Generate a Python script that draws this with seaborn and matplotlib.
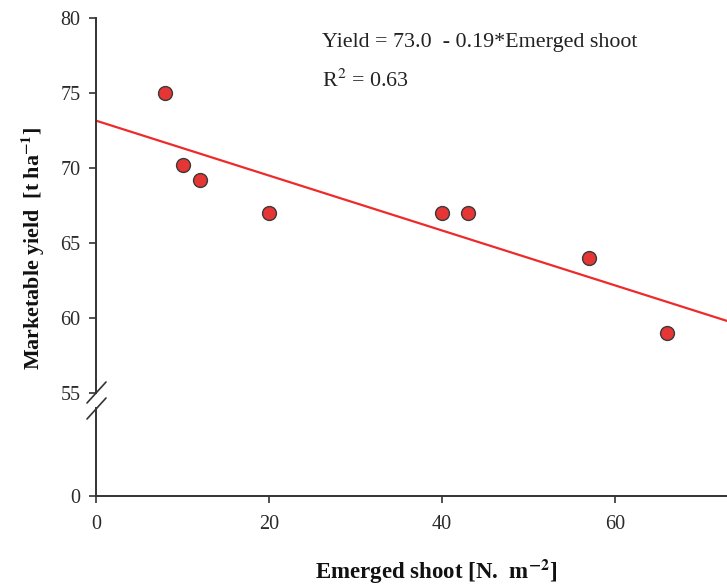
import numpy as np
import matplotlib
matplotlib.use("Agg")
import matplotlib.pyplot as plt
import seaborn as sns
import pandas as pd

# datos
emerged_shoot = [8, 10, 12, 20, 40, 43, 57, 66]
yield_t = [75.0, 70.2, 69.2, 67.0, 67.0, 67.0, 64.0, 59.0]
x_ticks = [0, 20, 40, 60]
y_ticks_top = [55, 60, 65, 70, 75, 80]

df = pd.DataFrame({"shoot": emerged_shoot, "yield": yield_t})

sns.set_style("ticks")
plt.rcParams["font.family"] = ["Liberation Serif", "DejaVu Serif"]
plt.rcParams["mathtext.fontset"] = "stix"

W, H = 727, 588
fig = plt.figure(figsize=(W / 100, H / 100), dpi=100)

left = 96 / W
top_ax = fig.add_axes([left, 1 - 393 / H, 1 - left, (393 - 18) / H])
bot_ax = fig.add_axes([left, 1 - 496 / H, 1 - left, (496 - 408) / H], sharex=top_ax)

axis_col = "#333333"
red = "#ee2a2a"

top_ax.set_xlim(0, (W - 96) / 8.65)
top_ax.set_ylim(55, 80)
bot_ax.set_ylim(0, 1)

# recta de regresion + puntos
sns.regplot(data=df, x="shoot", y="yield", ax=top_ax, scatter=False, ci=None,
            truncate=False, line_kws={"color": red, "lw": 1.6})
sns.scatterplot(data=df, x="shoot", y="yield", ax=top_ax, s=100,
                color="#e53535", edgecolor="#3a3a3a", linewidth=1.0, zorder=3)

for ax in (top_ax, bot_ax):
    sns.despine(ax=ax)
    ax.spines["left"].set_color(axis_col)
    ax.spines["left"].set_linewidth(1.4)
    ax.tick_params(colors=axis_col, labelcolor="#2a2a2a", labelsize=14.5,
                   length=5, width=1.2, pad=6)
    ax.set_xlabel("")
    ax.set_ylabel("")
    ax.patch.set_alpha(0)

top_ax.spines["bottom"].set_visible(False)
top_ax.tick_params(axis="x", bottom=False, labelbottom=False)
top_ax.set_yticks(y_ticks_top)

bot_ax.spines["bottom"].set_color(axis_col)
bot_ax.spines["bottom"].set_linewidth(1.4)
bot_ax.set_yticks([0])
bot_ax.set_xticks(x_ticks)
bot_ax.tick_params(axis="x", pad=9)

# marcas de corte del eje
for y0 in (403, 419):
    fig.add_artist(plt.Line2D([87 / W, 106 / W], [1 - y0 / H, 1 - (y0 - 21) / H],
                              color=axis_col, lw=1.2, transform=fig.transFigure))

top_ax.text(0.358, 0.936, "Yield = 73.0  - 0.19*Emerged shoot", transform=top_ax.transAxes,
            fontsize=15.8, va="center", color="#222222")
top_ax.text(0.358, 0.833, "R$^{2}$ = 0.63", transform=top_ax.transAxes,
            fontsize=15.8, va="center", color="#222222")

fig.text(33 / W, 1 - 248 / H, "Marketable yield  [t ha$^{\\mathbf{-1}}$]", rotation=90,
         ha="center", va="center", fontsize=15.8, fontweight="bold", color="#111111")
fig.text(436 / W, 1 - 572 / H, "Emerged shoot [N.  m$^{\\mathbf{-2}}$]",
         ha="center", va="center", fontsize=16.5, fontweight="bold", color="#111111")

fig.savefig("out.png", dpi=100)
